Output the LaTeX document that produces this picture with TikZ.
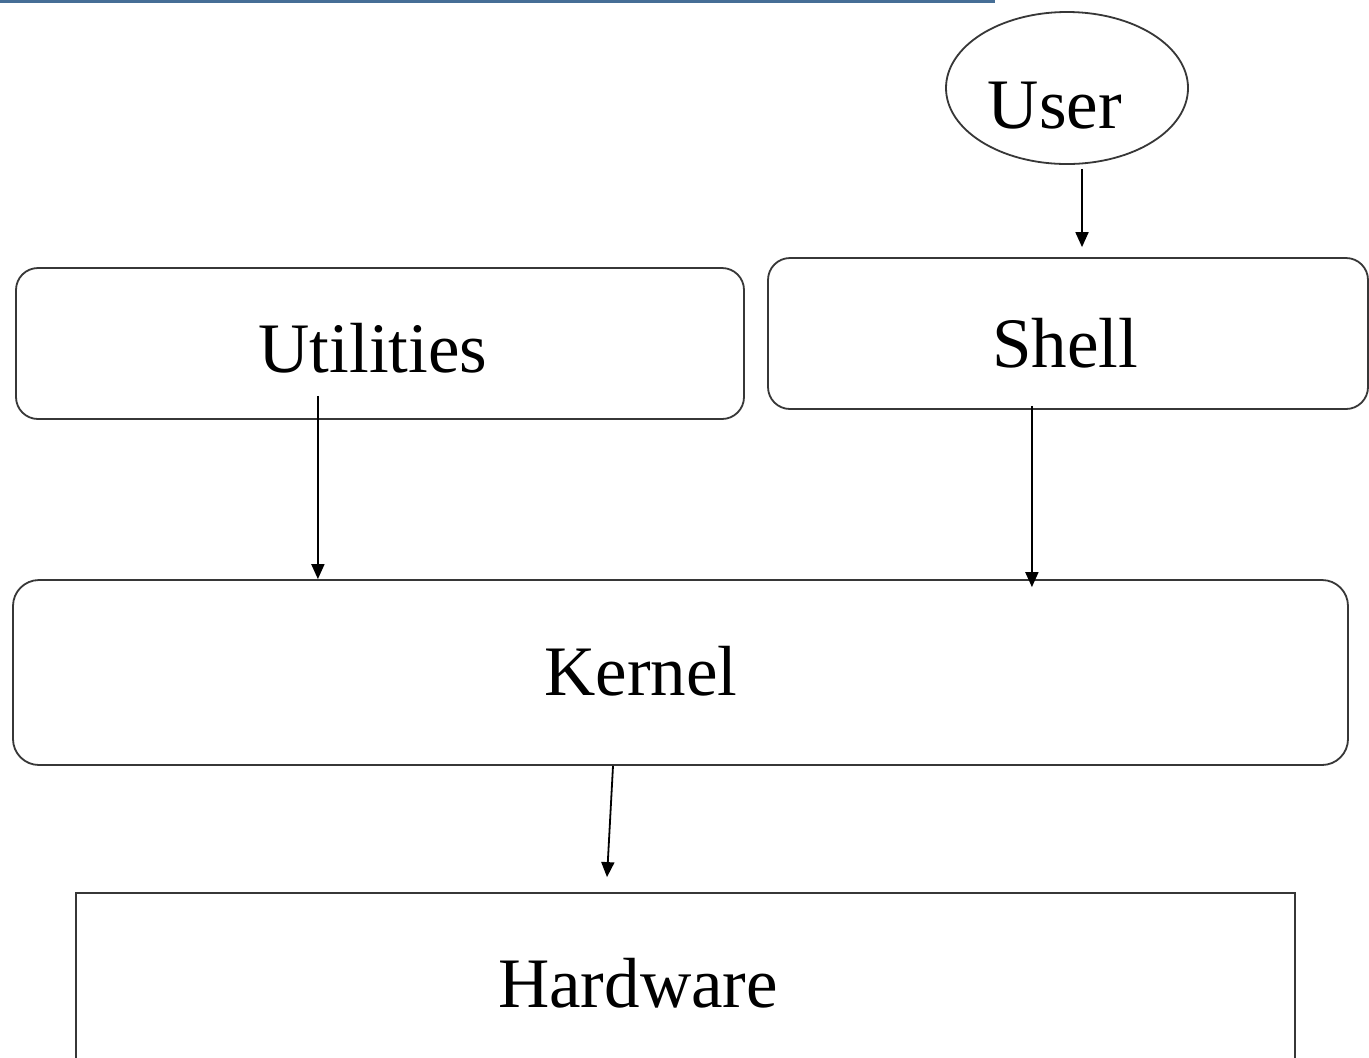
\documentclass[tikz,border=0pt]{standalone}
\usepackage{fontspec}
\setmainfont{Liberation Serif}
\usetikzlibrary{arrows.meta,shapes.geometric,fit}
\definecolor{topblue}{RGB}{70,110,150}
\definecolor{boxline}{RGB}{55,55,55}
\begin{document}
\begin{tikzpicture}[x=0.5pt,y=-0.5pt,
  boxstyle/.style={draw=boxline,line width=0.9pt,inner sep=0pt,rounded corners=11pt},
  hwstyle/.style={draw=boxline,line width=0.9pt,inner sep=0pt},
  lbl/.style={anchor=base,inner sep=0pt,font=\fontsize{35.5}{40}\selectfont},
  arr/.style={line width=0.9pt,-{Triangle[length=7.5pt,width=6.5pt]}}]
\useasboundingbox (0,0) rectangle (1369,1057);
\clip (0,0) rectangle (1369,1057);
\fill[white] (0,0) rectangle (1369,1057);
% top blue rule
\coordinate (bl) at (0,1.5);
\coordinate (br) at (995,1.5);
\draw[topblue,line width=1.6pt] (bl) -- (br);
% nodes
\node[ellipse,draw=boxline,line width=0.9pt,minimum width=121pt,minimum height=76pt,inner sep=0pt] (user) at (1067,88) {};
\node[boxstyle,fit={(768,258)(1368,409)}] (shell) {};
\node[boxstyle,fit={(16,268)(744,419)}] (util) {};
\node[boxstyle,rounded corners=13pt,fit={(13,580)(1348,765)}] (kernel) {};
\node[hwstyle,fit={(76,893)(1295,1080)}] (hw) {};
% labels
\node[lbl] (tuser) at (1055,128) {User};
\node[lbl] (tshell) at (1065,367) {Shell};
\node[lbl] (tutil) at (373,372) {Utilities};
\node[lbl] (tkernel) at (641,695) {Kernel};
\node[lbl] (thw) at (638,1007) {Hardware};
% connectors
\draw[arr] ([xshift=7.5pt,yshift=-2pt]user.south) -- ([xshift=7pt,yshift=5pt]shell.north);
\draw[arr] ([xshift=-213.5pt,yshift=12pt]util.south east) -- ([xshift=-213.5pt]util.south east |- kernel.north);
\draw[arr] ([xshift=-168.5pt,yshift=2pt]shell.south east) -- ([xshift=-168.5pt,yshift=-4pt]shell.south east |- kernel.north);
\draw[arr] ([xshift=-33.75pt]kernel.south) -- ([xshift=-39.25pt,yshift=7.5pt]hw.north);
\end{tikzpicture}
\end{document}
